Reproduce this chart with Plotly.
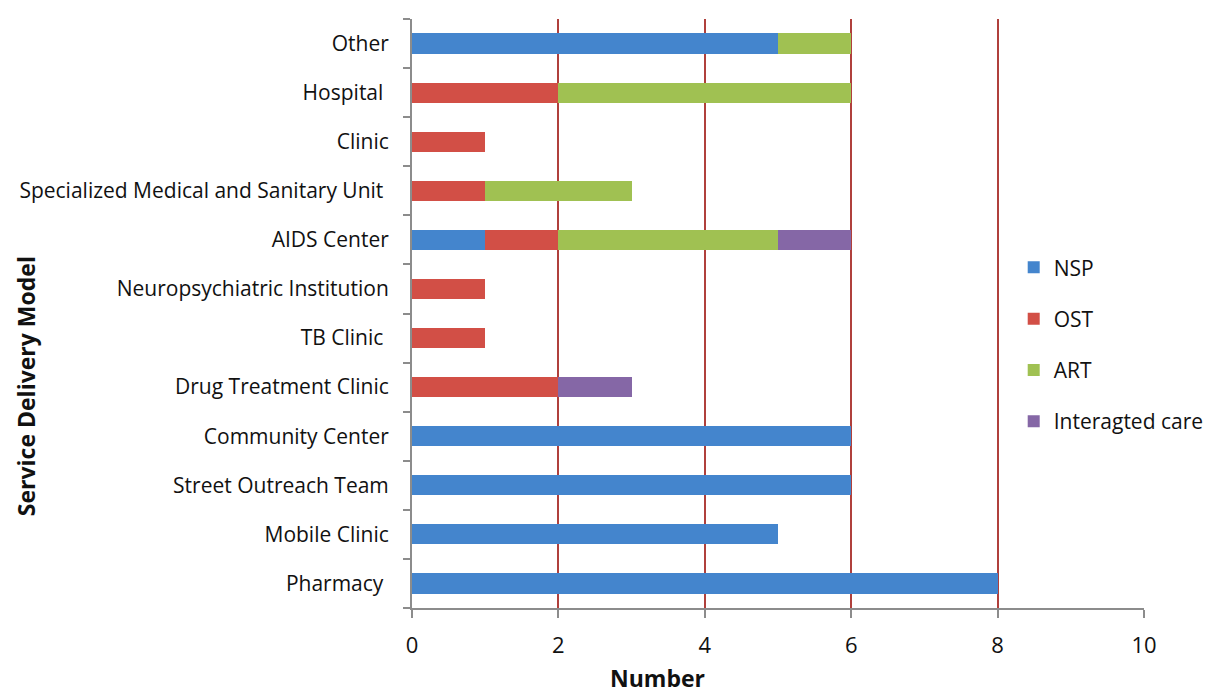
import plotly.graph_objects as go

NBSP = "\u00a0"

# categories listed bottom to top
categories = [
    "Pharmacy" + NBSP,
    "Mobile Clinic",
    "Street Outreach Team",
    "Community Center",
    "Drug Treatment Clinic",
    "TB Clinic" + NBSP,
    "Neuropsychiatric Institution",
    "AIDS Center",
    "Specialized Medical and Sanitary Unit" + NBSP,
    "Clinic",
    "Hospital" + NBSP,
    "Other",
]

nsp = [8, 5, 6, 6, 0, 0, 0, 1, 0, 0, 0, 5]
ost = [0, 0, 0, 0, 2, 1, 1, 1, 1, 1, 2, 0]
art = [0, 0, 0, 0, 0, 0, 0, 3, 2, 0, 4, 1]
integrated = [0, 0, 0, 0, 1, 0, 0, 1, 0, 0, 0, 0]

x_ticks = [0, 2, 4, 6, 8, 10]

SERIES = [
    ("NSP", nsp, "#4485cd"),
    ("OST", ost, "#d24f46"),
    ("ART", art, "#a0c152"),
    ("Interagted care", integrated, "#8567a6"),
]

FONT = "'Open Sans', Lato, sans-serif"
AXIS_GRAY = "#8c8c8c"
GRID_RED = "#b0403c"

fig = go.Figure()
for name, values, color in SERIES:
    fig.add_trace(
        go.Bar(
            x=values,
            y=categories,
            name=name,
            orientation="h",
            marker={"color": color, "line": {"width": 0}},
            legendgroup=name,
        )
    )

# page body has an 8px margin, so the figure is a bit smaller than the window
fig.update_layout(
    barmode="stack",
    bargap=0.59,
    width=1216,
    height=685,
    margin={"l": 402, "r": 80, "t": 11, "b": 85},
    paper_bgcolor="white",
    plot_bgcolor="white",
    font={"family": FONT, "size": 21, "color": "#111111"},
    legend={
        "x": 0.822,
        "y": 0.447,
        "xanchor": "left",
        "yanchor": "middle",
        "traceorder": "grouped",
        "tracegroupgap": 21,
        "font": {"size": 21},
        "bgcolor": "rgba(0,0,0,0)",
        "itemwidth": 30,
        "borderwidth": 0,
    },
    xaxis={
        "range": [0, 10],
        "tickvals": x_ticks,
        "showgrid": True,
        "gridcolor": GRID_RED,
        "gridwidth": 1.5,
        "zeroline": False,
        "showline": True,
        "linecolor": AXIS_GRAY,
        "linewidth": 2,
        "ticks": "outside",
        "ticklen": 8,
        "tickwidth": 2,
        "tickcolor": AXIS_GRAY,
        "tickfont": {"size": 22},
        "ticklabelstandoff": 9,
    },
    yaxis={
        "showgrid": False,
        "showline": True,
        "linecolor": AXIS_GRAY,
        "linewidth": 2,
        "ticks": "outside",
        "tickson": "boundaries",
        "ticklen": 7,
        "tickwidth": 2,
        "tickcolor": AXIS_GRAY,
        "ticklabelstandoff": 17,
    },
    annotations=[
        {
            "text": "<b>Service Delivery Model</b>",
            "xref": "paper",
            "yref": "paper",
            "x": -0.527,
            "y": 0.377,
            "xanchor": "center",
            "yanchor": "middle",
            "textangle": -90,
            "showarrow": False,
            "font": {"size": 23},
        },
        {
            "text": "<b>Number</b>",
            "xref": "paper",
            "yref": "paper",
            "x": 0.335,
            "y": -0.118,
            "xanchor": "center",
            "yanchor": "middle",
            "showarrow": False,
            "font": {"size": 23},
        },
    ],
)

fig.write_html("out.html")
